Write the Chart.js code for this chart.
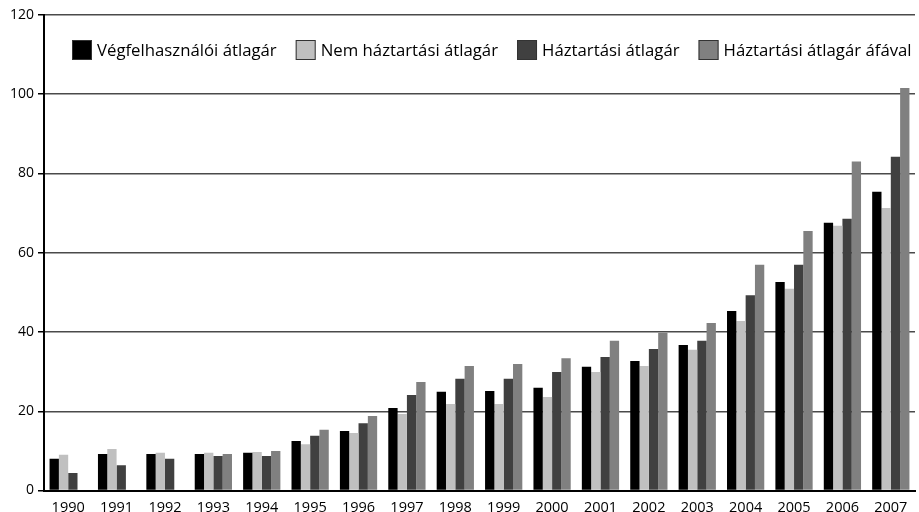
<!DOCTYPE html>
<html>
<head>
<meta charset="utf-8">
<script src="https://cdn.jsdelivr.net/npm/chart.js@4.4.0/dist/chart.umd.min.js"></script>
<style>
  html, body { margin: 0; padding: 0; background: #fff; }
  #wrap { width: 919px; height: 512px; }
</style>
</head>
<body>
<div id="wrap"><canvas id="grafico"></canvas></div>
<script>
// evek es sorozatok (leolvasva a kepbol)
var evek = ['1990','1991','1992','1993','1994','1995','1996','1997','1998','1999',
            '2000','2001','2002','2003','2004','2005','2006','2007'];
var vegfelhasznaloi = [8.0, 9.2, 9.2, 9.2, 9.5, 12.5, 15.0, 20.8, 24.9, 25.1,
                       25.9, 31.2, 32.7, 36.7, 45.3, 52.6, 67.6, 75.4];
var nemHaztartasi = [9.0, 10.5, 9.5, 9.5, 9.7, 11.7, 14.5, 19.3, 21.8, 21.8,
                     23.6, 29.9, 31.4, 35.5, 42.8, 50.9, 66.8, 71.3];
var haztartasi = [4.4, 6.4, 8.0, 8.7, 8.7, 13.8, 17.0, 24.1, 28.2, 28.2,
                  29.9, 33.7, 35.7, 37.8, 49.3, 57.0, 68.6, 84.2];
var haztartasiAfa = [null, null, null, 9.2, 10.0, 15.3, 18.8, 27.4, 31.4, 31.9,
                     33.4, 37.8, 39.8, 42.3, 57.0, 65.5, 83.0, 101.6];
var sorozatNevek = ['Végfelhasználói átlagár', 'Nem háztartási átlagár', 'Háztartási átlagár', 'Háztartási átlagár áfával'];
var cores = ['#000000', '#c0c0c0', '#404040', '#808080'];
var yTicks = [0, 20, 40, 60, 80, 100, 120];

var fonte = '"Open Sans", "Noto Sans", sans-serif';

// legenda a rajzteruleten belul
var legendaPlugin = {
    id: 'legendaInterna',
    afterDraw: function(chart) {
        var ctx = chart.ctx;
        var x = chart.chartArea.left + 28;
        var yCentro = 50;
        var caixa = 20, gap1 = 5, gap2 = 19;
        var tamanho = 17;
        var total;
        do {
            ctx.font = tamanho + 'px ' + fonte;
            total = 0;
            chart.data.datasets.forEach(function(ds, i) {
                total += caixa + gap1 + ctx.measureText(ds.label).width + (i < 3 ? gap2 : 0);
            });
            tamanho -= 0.25;
        } while (total > chart.chartArea.right - x && tamanho > 10);
        ctx.save();
        ctx.textBaseline = 'middle';
        chart.data.datasets.forEach(function(ds) {
            ctx.fillStyle = ds.backgroundColor;
            ctx.fillRect(x, yCentro - caixa / 2, caixa, caixa);
            ctx.strokeStyle = '#333';
            ctx.lineWidth = 1;
            ctx.strokeRect(x + 0.5, yCentro - caixa / 2 + 0.5, caixa - 1, caixa - 1);
            x += caixa + gap1;
            ctx.fillStyle = '#000';
            ctx.fillText(ds.label, x, yCentro + 1);
            x += ctx.measureText(ds.label).width + gap2;
        });
        ctx.restore();
    }
};

var dadosSeries = [vegfelhasznaloi, nemHaztartasi, haztartasi, haztartasiAfa];

new Chart(document.getElementById('grafico').getContext('2d'), {
    type: 'bar',
    data: {
        labels: evek,
        datasets: dadosSeries.map(function(d, i) {
            return {
                label: sorozatNevek[i],
                data: d,
                backgroundColor: cores[i],
                borderWidth: 0,
                categoryPercentage: 0.77,
                barPercentage: 1.0
            };
        })
    },
    options: {
        responsive: true,
        maintainAspectRatio: false,
        animation: false,
        layout: { padding: { left: 0, right: 4, top: 15, bottom: 0 } },
        plugins: {
            legend: { display: false },
            tooltip: { enabled: false }
        },
        scales: {
            x: {
                grid: { display: false },
                border: { display: true, color: '#000', width: 2 },
                ticks: {
                    color: '#000',
                    font: { family: fonte, size: 14.5 },
                    padding: 1,
                    maxRotation: 0,
                    autoSkip: false
                },
                afterFit: function(scale) { scale.height = 21.5; }
            },
            y: {
                min: 0,
                max: 120,
                afterBuildTicks: function(scale) {
                    scale.ticks = yTicks.map(function(v) { return { value: v }; });
                },
                grid: {
                    color: function(c) { return c.tick && c.tick.value === 0 ? '#000' : '#4a4a4a'; },
                    lineWidth: 1.5,
                    drawTicks: true,
                    tickLength: 6,
                    tickColor: '#000'
                },
                border: { display: true, color: '#000', width: 2 },
                ticks: {
                    color: '#000',
                    font: { family: fonte, size: 14 },
                    padding: 4
                },
                afterFit: function(scale) { scale.width = 44; }
            }
        }
    },
    plugins: [legendaPlugin]
});
</script>
</body>
</html>
